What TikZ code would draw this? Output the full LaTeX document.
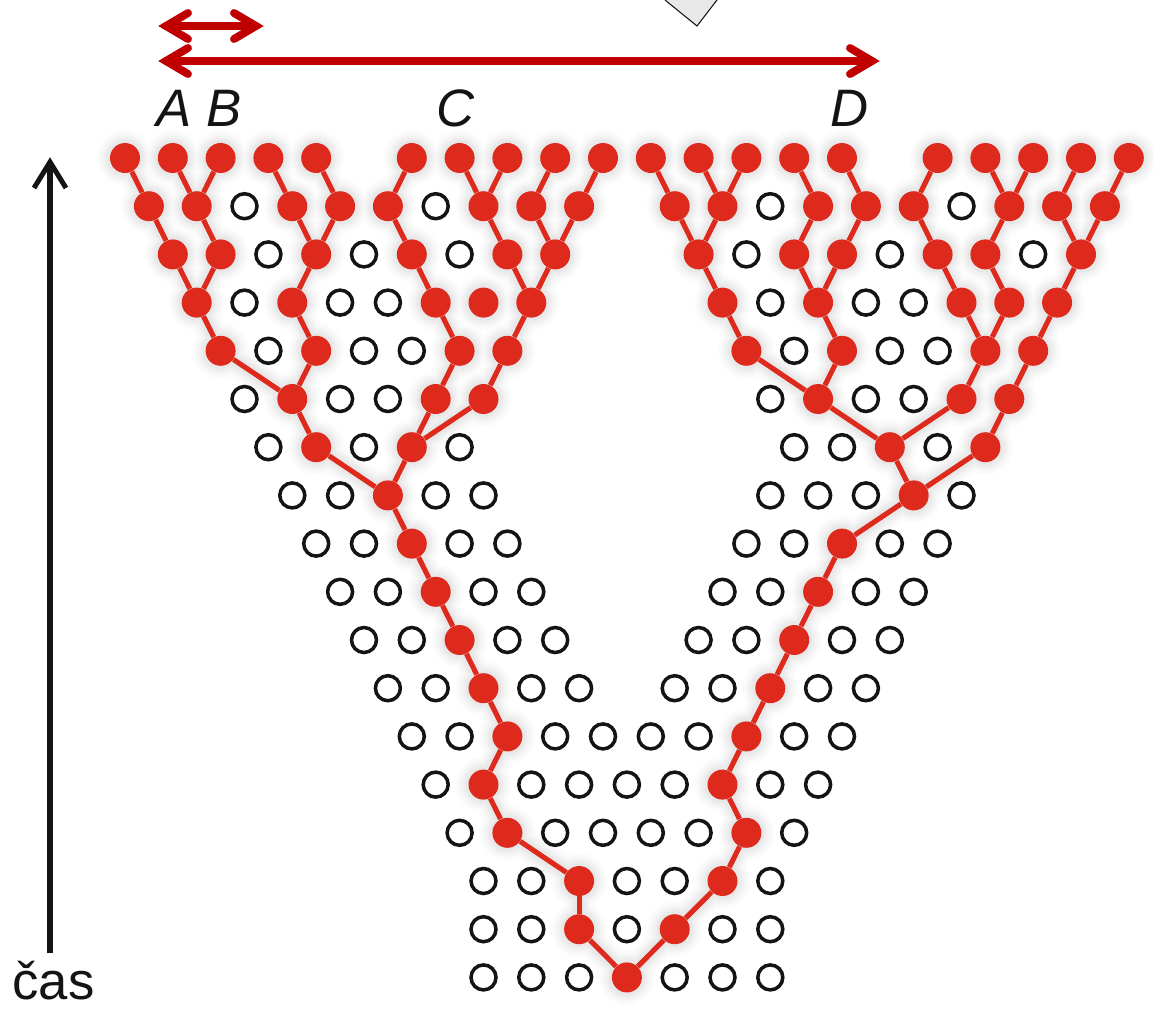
\documentclass[tikz,border=0pt]{standalone}
\usepackage{fontspec}
\setmainfont{Liberation Sans}
\definecolor{dotred}{RGB}{221,42,29}
\definecolor{arrred}{RGB}{192,0,0}
\definecolor{ink}{RGB}{20,20,20}
\pgfdeclarelayer{glow}
\pgfsetlayers{glow,main}
\def\redlist{0/{0,2,4,6,8,12,14,16,18,20,22,24,26,28,30,34,36,38,40,42},
1/{1,3,7,9,11,15,17,19,23,25,29,31,33,37,39,41},
2/{2,4,8,12,16,18,24,28,30,34,36,40},
3/{3,7,13,15,17,25,29,35,37,39},
4/{4,8,14,16,26,30,36,38},
5/{7,13,15,29,35,37},
6/{8,12,32,36},
7/{11,33}, 8/{12,30}, 9/{13,29}, 10/{14,28}, 11/{15,27}, 12/{16,26},
13/{15,25}, 14/{16,26}, 15/{19,25}, 16/{19,23}, 17/{21}}
\def\openlist{1/{5,13,27,35},
2/{6,10,14,26,32,38},
3/{5,9,11,27,31,33},
4/{6,10,12,28,32,34},
5/{5,9,11,27,31,33},
6/{6,10,14,28,30,34},
7/{7,9,13,15,27,29,31,35},
8/{8,10,14,16,26,28,32,34},
9/{9,11,15,17,25,27,31,33},
10/{10,12,16,18,24,26,30,32},
11/{11,13,17,19,23,25,29,31},
12/{12,14,18,20,22,24,28,30},
13/{13,17,19,21,23,27,29},
14/{14,18,20,22,24,28},
15/{15,17,21,23,27},
16/{15,17,21,25,27},
17/{15,17,19,23,25,27}}
\def\edgelist{0-0/1-1, 1-1/2-2, 0-2/1-3, 0-4/1-3, 1-3/2-4, 2-2/3-3, 2-4/3-3, 3-3/4-4,
0-6/1-7, 0-8/1-9, 1-7/2-8, 1-9/2-8, 2-8/3-7, 3-7/4-8, 4-4/5-7, 4-8/5-7, 5-7/6-8, 6-8/7-11,
0-12/1-11, 1-11/2-12, 2-12/3-13, 3-13/4-14, 4-14/5-13, 5-13/6-12,
0-14/1-15, 0-16/1-15, 1-15/2-16, 2-16/3-17, 0-18/1-17, 0-20/1-19, 1-17/2-18, 1-19/2-18,
2-18/3-17, 3-17/4-16, 4-16/5-15, 5-15/6-12, 6-12/7-11,
7-11/8-12, 8-12/9-13, 9-13/10-14, 10-14/11-15, 11-15/12-16, 12-16/13-15, 13-15/14-16,
14-16/15-19, 15-19/16-19, 16-19/17-21,
17-21/16-23, 16-23/15-25, 15-25/14-26, 14-26/13-25, 13-25/12-26, 12-26/11-27, 11-27/10-28,
10-28/9-29, 9-29/8-30, 8-30/7-33, 7-33/6-32, 7-33/6-36,
6-32/5-29, 6-32/5-35, 5-29/4-26, 5-29/4-30, 4-26/3-25, 3-25/2-24, 2-24/1-23, 2-24/1-25,
1-23/0-22, 1-25/0-24, 1-25/0-26, 4-30/3-29, 3-29/2-28, 3-29/2-30, 2-28/1-29, 1-29/0-28,
2-30/1-31, 1-31/0-30, 5-35/4-36, 4-36/3-35, 4-36/3-37, 3-35/2-34, 2-34/1-33, 1-33/0-34,
3-37/2-36, 2-36/1-37, 1-37/0-36, 1-37/0-38, 6-36/5-37, 5-37/4-38, 4-38/3-39, 3-39/2-40,
2-40/1-39, 2-40/1-41, 1-39/0-40, 1-41/0-42}
\begin{document}
\begin{tikzpicture}[x=0.02cm,y=-0.02cm,
  reddot/.style={circle,fill=dotred,inner sep=0pt,minimum size=0.6cm},
  opendot/.style={circle,draw=ink,fill=white,line width=2pt,inner sep=0pt,minimum size=0.5cm},
  link/.style={draw=dotred,line width=2.9pt},
  redarrow/.style={draw=arrred,line width=4.5pt,line cap=round,line join=miter},
  timearrow/.style={draw=ink,line width=2.85pt,line join=miter},
  lbl/.style={font=\fontsize{30}{36}\selectfont\itshape,text=ink,inner sep=0pt,anchor=base},
  caslbl/.style={font=\fontsize{30}{36}\selectfont,text=ink,inner sep=0pt,anchor=base west},
  pointer/.style={fill=gray!18,draw=ink,line width=0.6pt}]
\useasboundingbox (0,0) rectangle (1154,1009);
% lattice of dots
\foreach \r/\ks in \redlist {
  \foreach \k in \ks {
    \node[reddot] (n\r-\k) at ({125+23.9*\k},{158+48.2*\r}) {};
  }
}
\foreach \r/\ks in \openlist {
  \foreach \k in \ks {
    \node[opendot] (n\r-\k) at ({125+23.9*\k},{158+48.2*\r}) {};
  }
}
% soft shadow under the red tree
\begin{pgfonlayer}{glow}
\foreach \e/\c in {13/2,11/4,9/7,7/10,5/14,3/18} {
  \foreach \a/\b in \edgelist {
    \draw[gray!\c,line width={(5+2*\e)*0.569pt},line cap=round] (n\a.center) -- (n\b.center);
  }
  \foreach \r/\ks in \redlist {
    \foreach \k in \ks {
      \fill[gray!\c] (n\r-\k.center) circle[radius={(15+\e)*0.02cm}];
    }
  }
}
\end{pgfonlayer}
% red links
\foreach \a/\b in \edgelist {
  \draw[link] (n\a) -- (n\b);
}
% labels
\node[lbl] (labA) at (174,126) {A};
\node[lbl] (labB) at (224,126) {B};
\node[lbl] (labC) at (456,126) {C};
\node[lbl] (labD) at (850,126) {D};
\node[caslbl] (cas) at (12,999) {čas};
% time arrow
\coordinate (tb) at (50,953);
\coordinate (tt) at (50,162);
\draw[timearrow] (tb) -- (tt);
\draw[timearrow] (tt) ++(-16,26) -- (tt) -- ++(16,26);
% red double arrows
\coordinate (sA) at (166,26);
\coordinate (sB) at (256,26);
\coordinate (lA) at (166,61);
\coordinate (lD) at (872,61);
\draw[redarrow] (sA) -- (sB);
\draw[redarrow] (sA) ++(22,-13) -- (sA) -- ++(22,13);
\draw[redarrow] (sB) ++(-22,-13) -- (sB) -- ++(-22,13);
\draw[redarrow] (lA) -- (lD);
\draw[redarrow] (lA) ++(22,-13) -- (lA) -- ++(22,13);
\draw[redarrow] (lD) ++(-22,-13) -- (lD) -- ++(-22,13);
% grey pointer cut at the top
\filldraw[pointer] (665,0) -- (697,26) -- (717,0);
\end{tikzpicture}
\end{document}
